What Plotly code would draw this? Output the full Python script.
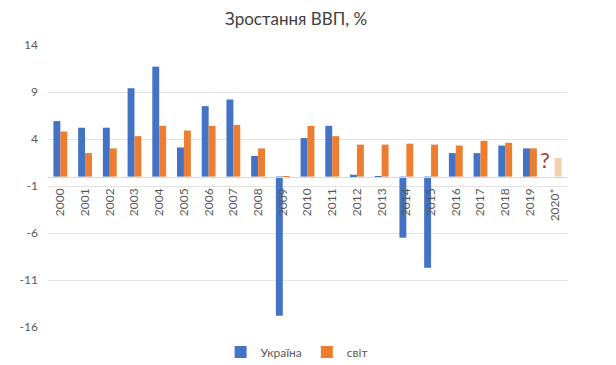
import plotly.graph_objects as go

years = ["2000", "2001", "2002", "2003", "2004", "2005", "2006", "2007", "2008", "2009",
         "2010", "2011", "2012", "2013", "2014", "2015", "2016", "2017", "2018", "2019", "2020*"]
ukraine = [5.9, 5.2, 5.2, 9.4, 11.7, 3.1, 7.5, 8.2, 2.2, -14.8,
           4.1, 5.4, 0.2, -0.05, -6.5, -9.7, 2.5, 2.5, 3.3, 3.0, None]
world = [4.8, 2.5, 3.0, 4.3, 5.4, 4.9, 5.4, 5.5, 3.0, -0.1,
         5.4, 4.3, 3.4, 3.4, 3.5, 3.4, 3.3, 3.8, 3.6, 3.0, 2.0]
y_ticks = [-16, -11, -6, -1, 4, 9, 14]
y_tick_labels = ["-16", "-11", "-6", "-1", "4", "9", "14"]

BLUE = "#4472C4"
ORANGE = "#ED7D31"
PEACH = "#F6CFAE"
world_colors = [ORANGE] * (len(years) - 1) + [PEACH]

FONT = "Lato, 'Open Sans', sans-serif"

fig = go.Figure()
fig.add_trace(go.Bar(x=years, y=ukraine, name="Україна", marker=dict(color=BLUE, line=dict(width=0))))
fig.add_trace(go.Bar(x=years, y=world, name="світ", marker=dict(color=world_colors, line=dict(width=0))))

fig.add_annotation(x=19.5, y=1.8, text="?", showarrow=False,
                   font=dict(family=FONT, size=22, color="#B0362F"), xshift=3)

fig.update_layout(
    width=616, height=365,
    margin=dict(l=40, r=57, t=37, b=46, autoexpand=False),
    paper_bgcolor="white", plot_bgcolor="white",
    title=dict(text="Зростання ВВП, %", x=0.478, xref="paper", xanchor="center",
               y=1 - 11 / 365, yref="container", yanchor="middle",
               font=dict(family=FONT, size=17, color="#404040")),
    barmode="group", bargap=0.44, bargroupgap=0,
    font=dict(family=FONT, size=12, color="#595959"),
    legend=dict(orientation="h", x=0.479, xanchor="center", xref="paper",
                y=1 - 344 / 365, yref="container", yanchor="middle",
                font=dict(family=FONT, size=12, color="#595959"),
                itemwidth=30, traceorder="normal"),
    xaxis=dict(type="category", anchor="free", position=16 / 30, automargin=False,
               showline=True, linecolor="#D9D9D9", linewidth=1,
               ticks="", ticklen=0, tickangle=-90, showgrid=False, ticklabelstandoff=6,
               tickfont=dict(family=FONT, size=12, color="#595959")),
    yaxis=dict(range=[-16, 14], tickvals=y_ticks, ticktext=y_tick_labels,
               showgrid=True, gridcolor="#E3E3E3", automargin=False,
               zeroline=False, showline=False, ticks="", ticklen=0, ticklabelstandoff=9,
               tickfont=dict(family=FONT, size=12, color="#595959")),
)

fig.write_html("out.html")
